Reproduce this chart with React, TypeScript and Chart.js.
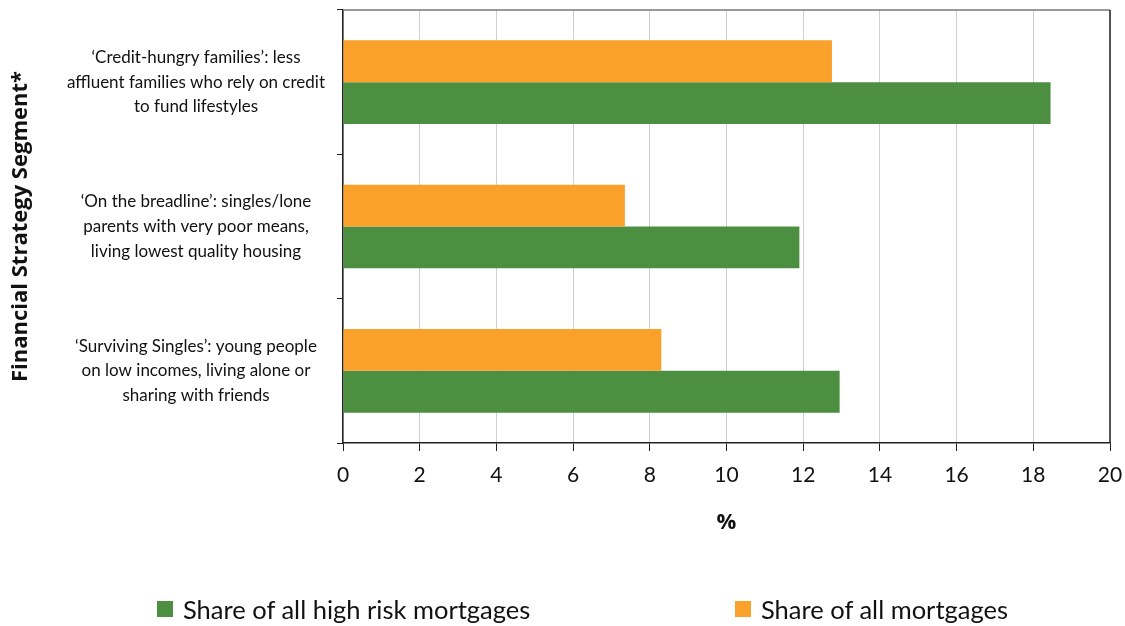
import React, { useEffect, useRef } from "react";
import { Chart, registerables } from "chart.js";

Chart.register(...registerables);

const categories: string[][] = [
  ["\u2018Credit-hungry families\u2019: less", "affluent families who rely on credit", "to fund lifestyles"],
  ["\u2018On the breadline\u2019: singles/lone", "parents with very poor means,", "living lowest quality housing"],
  ["\u2018Surviving Singles\u2019: young people", "on low incomes, living alone or", "sharing with friends"],
];
const shareAllMortgages = [12.75, 7.35, 8.3];
const shareHighRisk = [18.45, 11.9, 12.95];
const xMin = 0;
const xMax = 20;
const xStep = 2;
const labelAll = "Share of all mortgages";
const labelHighRisk = "Share of all high risk mortgages";
const xTitle = "%";
const yTitle = "Financial Strategy Segment*";

const ORANGE = "#F9A12B";
const GREEN = "#4C8F40";
const FONT = "Lato, 'Open Sans', sans-serif";
const TITLE_FONT = "'Open Sans', Lato, sans-serif";

const frame = {
  id: "frame",
  afterDatasetsDraw(chart: any) {
    const { ctx, chartArea: a } = chart;
    ctx.save();
    ctx.lineWidth = 1.5;
    ctx.strokeStyle = "#777";
    ctx.beginPath();
    ctx.moveTo(a.left, a.top);
    ctx.lineTo(a.right, a.top);
    ctx.stroke();
    ctx.strokeStyle = "#222";
    ctx.beginPath();
    ctx.moveTo(a.right, a.top);
    ctx.lineTo(a.right, a.bottom);
    ctx.stroke();
    ctx.restore();
  },
};

export default function App() {
  const ref = useRef<HTMLCanvasElement | null>(null);
  useEffect(() => {
    if (!ref.current) return;
    const chart = new Chart(ref.current, {
      type: "bar",
      data: {
        labels: categories,
        datasets: [
          { label: labelAll, data: shareAllMortgages, backgroundColor: ORANGE, barPercentage: 1, categoryPercentage: 0.58 },
          { label: labelHighRisk, data: shareHighRisk, backgroundColor: GREEN, barPercentage: 1, categoryPercentage: 0.58 },
        ],
      },
      options: {
        indexAxis: "y",
        animation: false,
        responsive: true,
        maintainAspectRatio: false,
        layout: { padding: { top: 10, right: 15, left: 8, bottom: 78 } },
        plugins: { legend: { display: false }, tooltip: { enabled: false } },
        scales: {
          x: {
            min: xMin,
            max: xMax,
            ticks: { stepSize: xStep, color: "#111", font: { family: FONT, size: 21 }, padding: 12 },
            grid: { color: "#cfcfcf", tickColor: "#222", tickLength: 8, lineWidth: 1 },
            border: { color: "#222", width: 1.5 },
            title: { display: true, text: xTitle, color: "#111", font: { family: TITLE_FONT, size: 22, weight: "bold" }, padding: { top: 12, bottom: 12 } },
            afterFit: (s: any) => { s.height = 105; s.paddingLeft = 0; s.paddingRight = 0; },
          },
          y: {
            ticks: { color: "#111", font: { family: FONT, size: 17, lineHeight: 1.45 }, crossAlign: "center", padding: 12 },
            grid: { offset: true, drawOnChartArea: false, tickColor: "#222", tickLength: 6 },
            border: { color: "#222", width: 1.5 },
            title: { display: true, text: yTitle, color: "#111", font: { family: TITLE_FONT, size: 22, weight: "bold" }, padding: { top: 0, bottom: 0 } },
            afterFit: (s: any) => { s.width = 335; s.paddingTop = 0; s.paddingBottom = 0; },
          },
        },
      },
      plugins: [frame],
    });
    return () => chart.destroy();
  }, []);

  const item = (color: string, text: string) => (
    <div style={{ display: "flex", alignItems: "center" }}>
      <span style={{ display: "inline-block", width: 16, height: 16, background: color, marginRight: 10 }} />
      <span>{text}</span>
    </div>
  );

  return (
    <div style={{ position: "fixed", left: 0, top: 0, width: 1125, height: 626, background: "#fff", fontFamily: FONT }}>
      <canvas ref={ref} />
      <div style={{ position: "absolute", top: 594, left: 157, display: "flex", fontSize: 25.5, color: "#111", lineHeight: "30px" }}>
        <div style={{ width: 578 }}>{item(GREEN, labelHighRisk)}</div>
        {item(ORANGE, labelAll)}
      </div>
    </div>
  );
}
